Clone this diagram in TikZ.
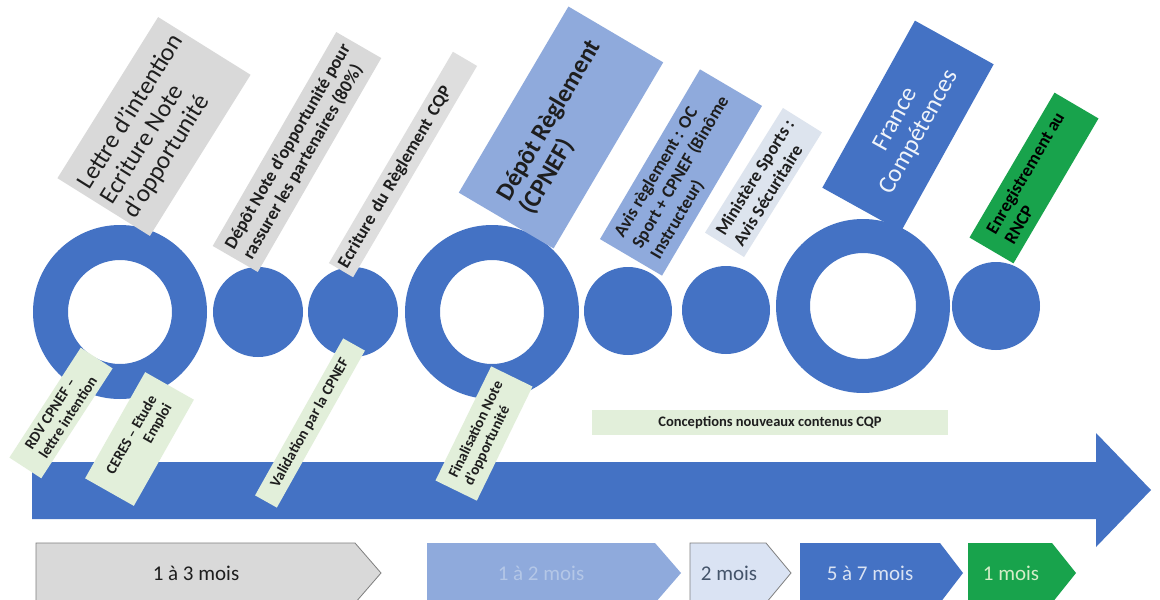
\documentclass[tikz,border=0pt]{standalone}
\usepackage{fontspec}
\setmainfont{Carlito}
\definecolor{cblue}{HTML}{4472C4}
\definecolor{cgray}{HTML}{D9D9D9}
\definecolor{clgray}{HTML}{DEDEDE}
\definecolor{cmblue}{HTML}{8FAADC}
\definecolor{cpale}{HTML}{DDE4EE}
\definecolor{cgreen}{HTML}{18A34C}
\definecolor{cmint}{HTML}{E2EFDA}
\definecolor{ctext}{HTML}{1E1E1E}
\definecolor{cline}{HTML}{7F7F7F}
\definecolor{cpaleblue}{HTML}{DAE3F3}
\definecolor{cfaint}{HTML}{B4C7E7}
\definecolor{cslate}{HTML}{44546A}
\definecolor{clgreen}{HTML}{D5EDC8}
\tikzset{
  tagbox/.style={inner sep=0pt, outer sep=0pt, align=left, text=ctext},
  bigfont/.style={font=\fontsize{25}{27}\selectfont},
  bigbold/.style={font=\fontsize{25}{27}\selectfont\bfseries},
  midfont/.style={font=\fontsize{18}{21}\selectfont\bfseries},
  smallfont/.style={font=\fontsize{15}{17}\selectfont\bfseries},
  chevtext/.style={inner sep=0pt, font=\fontsize{21}{24}\selectfont},
  ring/.style={fill=cblue, even odd rule},
  disc/.style={fill=cblue}
}
\begin{document}
\begin{tikzpicture}[x=1pt,y=-1pt]
\useasboundingbox (0,0) rectangle (1160,600);
\clip (0,0) rectangle (1160,600);
\fill[white] (0,0) rectangle (1160,600);

% big timeline arrow
\fill[cblue] (32,462) -- (1096,462) -- (1096,433) -- (1151,490) -- (1096,547) -- (1096,519) -- (32,519) -- cycle;

% circles and rings
\coordinate (c1) at (120,312);
\coordinate (c2) at (258,312);
\coordinate (c3) at (353,312);
\coordinate (c4) at (492,312);
\coordinate (c5) at (628,311);
\coordinate (c6) at (726,310);
\coordinate (c7) at (863,306);
\coordinate (c8) at (996,306);
\fill[ring] (c1) circle[radius=87pt] (c1) circle[radius=52pt];
\fill[disc] (c2) circle[radius=45pt];
\fill[disc] (c3) circle[radius=45pt];
\fill[ring] (c4) circle[radius=87pt] (c4) circle[radius=52pt];
\fill[disc] (c5) circle[radius=44pt];
\fill[disc] (c6) circle[radius=44pt];
\fill[ring] (c7) circle[radius=87pt] (c7) circle[radius=53pt];
\fill[disc] (c8) circle[radius=44pt];

% upper labels
\node[tagbox, bigfont, fill=cgray, rotate=58, minimum width=190pt, minimum height=109pt] (lettre) at (154,126.5)
  {Lettre d’intention\\Ecriture Note\\d’opportunité};
\node[tagbox, midfont, fill=cgray, rotate=60, minimum width=247pt, minimum height=52pt] (depotnote) at (297,152)
  {Dépôt Note d’opportunité pour\\rassurer les partenaires (80\%)};
\node[tagbox, midfont, fill=clgray, rotate=59.6, minimum width=245pt, minimum height=28pt, text width=237pt] (ecriture) at (403,164.5)
  {Ecriture du Règlement CQP};
\node[tagbox, bigbold, fill=cmblue, rotate=59.5, minimum width=216pt, minimum height=110pt] (depotregl) at (561,127.5)
  {Dépôt Règlement\\(CPNEF)};
\node[tagbox, midfont, fill=cmblue, rotate=59.5, minimum width=197pt, minimum height=72pt] (avis) at (681,172.5)
  {Avis règlement : OC\\Sport + CPNEF (Binôme\\Instructeur)};
\node[tagbox, midfont, fill=cpale, rotate=58, minimum width=147pt, minimum height=46pt] (ministere) at (763.5,182.5)
  {Ministère Sports :\\Avis Sécuritaire};
\node[tagbox, bigfont, align=center, text=white!92!cblue, fill=cblue, rotate=61, minimum width=191pt, minimum height=90pt] (france) at (908,126)
  {France\\Compétences};
\node[tagbox, midfont, fill=cgreen, text=black, rotate=59.6, minimum width=168pt, minimum height=51pt] (rncp) at (1034,178)
  {Enregistrement au\\RNCP};

% lower labels
\node[tagbox, smallfont, fill=cmint, rotate=57, minimum width=131pt, minimum height=38pt] (rdv) at (61,413)
  {RDV CPNEF –\\lettre intention};
\node[tagbox, smallfont, align=right, fill=cmint, rotate=60.5, minimum width=122pt, minimum height=56pt] (ceres) at (139.5,439)
  {CERES – Etude\\Emploi};
\node[tagbox, smallfont, fill=cmint, rotate=60.7, minimum width=180pt, minimum height=25pt] (valid) at (310,423)
  {Validation par la CPNEF};
\node[tagbox, smallfont, fill=cmint, rotate=64, minimum width=127pt, minimum height=46pt] (final) at (484,433.5)
  {Finalisation Note\\d’opportunité};
\node[tagbox, font=\fontsize{14.5}{17}\selectfont\bfseries, align=center, fill=cmint, minimum width=356pt, minimum height=25pt] (concept) at (770,422.5)
  {Conceptions nouveaux contenus CQP};

% duration chevrons
\filldraw[fill=cgray, draw=cline, line width=0.8pt] (36,543) -- (355,543) -- (381,573) -- (355,603) -- (36,603) -- cycle;
\node[chevtext, text=ctext] (d1) at (196,573) {1 à 3 mois};
\fill[cmblue] (427,543) -- (655,543) -- (681,573) -- (655,603) -- (427,603) -- cycle;
\node[chevtext, text=cfaint] (d2) at (541,573) {1 à 2 mois};
\filldraw[fill=cpaleblue, draw=cline, line width=0.8pt] (690,543) -- (766,543) -- (791,573) -- (766,603) -- (690,603) -- cycle;
\node[chevtext, text=cslate] (d3) at (729,573) {2 mois};
\fill[cblue] (800,543) -- (940,543) -- (963,573) -- (940,603) -- (800,603) -- cycle;
\node[chevtext, text=cpaleblue] (d4) at (870,573) {5 à 7 mois};
\fill[cgreen] (968,543) -- (1052,543) -- (1076,573) -- (1052,603) -- (968,603) -- cycle;
\node[chevtext, text=clgreen] (d5) at (1011,573) {1 mois};
\end{tikzpicture}
\end{document}
